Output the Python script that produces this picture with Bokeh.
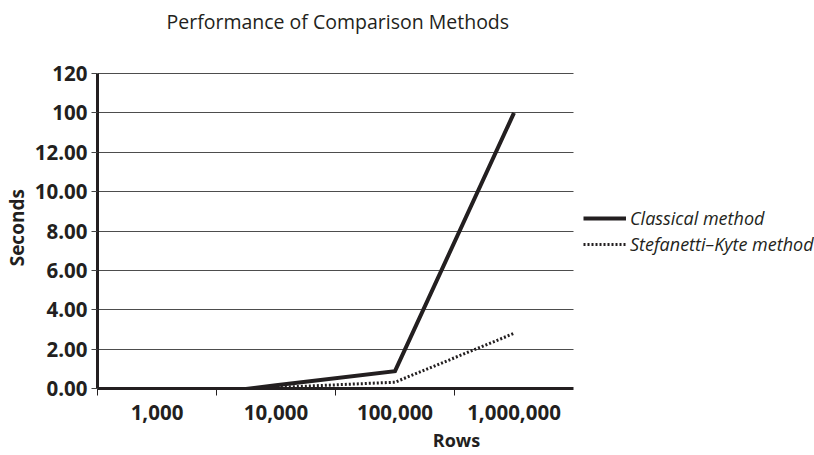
import numpy as np
from bokeh.plotting import figure
from bokeh.models import Range1d, FixedTicker, Legend, LegendItem, Label
from bokeh.embed import file_html
from bokeh.resources import INLINE

title_text = "Performance of Comparison Methods"
rows = ["1,000", "10,000", "100,000", "1,000,000"]
classical = [-0.57, 0.16, 0.88, 100.0]
stefanetti = [-0.22, 0.05, 0.32, 2.8]
y_tick_values = [0, 2, 4, 6, 8, 10, 12, 100, 120]
y_tick_labels = ["0.00", "2.00", "4.00", "6.00", "8.00", "10.00", "12.00", "100", "120"]
x_label = "Rows"
y_label = "Seconds"
series_names = ["Classical method", "Stefanetti\u2013Kyte method"]

INK = "#231f20"
FONT = "Open Sans"

CAT_PX = 119          # pixel width of one category slot
PLOT_PX = 718         # frame width (includes the legend area on the right)
AXIS_PX = 315         # pixel height of the value axis
FRAME_H = 388         # frame height (includes the title area above the axis)


def to_axis(vals):
    """Map seconds onto the broken (piecewise) y axis: one unit per tick step."""
    v = np.asarray(vals, dtype=float)
    idx = np.arange(len(y_tick_values), dtype=float)
    step0 = y_tick_values[1] - y_tick_values[0]
    return np.where(v < 0, v / step0, np.interp(v, y_tick_values, idx))


n_cat = len(rows)
n_ysteps = len(y_tick_values) - 1
x_pos = np.arange(n_cat) + 0.5
y_pos_idx = list(range(len(y_tick_values)))

p = figure(frame_width=PLOT_PX, frame_height=FRAME_H, output_backend="svg", toolbar_location=None,
           x_range=Range1d(0, PLOT_PX / CAT_PX),
           y_range=Range1d(0, n_ysteps * FRAME_H / AXIS_PX),
           min_border_left=96, min_border_right=0, min_border_top=0, min_border_bottom=67)
p.outline_line_color = None
p.background_fill_color = "white"
p.border_fill_color = "white"

# title drawn as a text label above the value axis
p.add_layout(Label(x=69, y=FRAME_H - 21, x_units="screen", y_units="screen",
                   text=title_text, text_font=FONT, text_font_size="19.5px",
                   text_font_style="normal", text_color=INK,
                   text_align="left", text_baseline="alphabetic"))

# x axis
xa = p.xaxis[0]
xa.bounds = (0, n_cat)
xa.ticker = FixedTicker(ticks=list(x_pos), minor_ticks=list(range(n_cat)))
xa.major_label_overrides = {float(x): lab for x, lab in zip(x_pos, rows)}
xa.major_tick_line_color = None
xa.major_tick_out = 0
xa.major_tick_in = 0
xa.minor_tick_line_color = INK
xa.minor_tick_line_width = 1
xa.minor_tick_out = 7
xa.minor_tick_in = 0
xa.axis_line_width = 3
xa.axis_line_color = INK
xa.major_label_text_font = FONT
xa.major_label_text_font_style = "bold"
xa.major_label_text_font_size = "20.5px"
xa.major_label_text_color = INK
xa.major_label_standoff = 9
xa.axis_label = x_label
xa.axis_label_text_font = FONT
xa.axis_label_text_font_style = "bold"
xa.axis_label_text_font_size = "18px"
xa.axis_label_text_color = INK
xa.axis_label_standoff = 5

# y axis (label padded with en spaces so it centres on the value axis, not the taller frame)
ya = p.yaxis[0]
ya.bounds = (0, n_ysteps)
ya.ticker = FixedTicker(ticks=y_pos_idx, minor_ticks=[])
ya.major_label_overrides = {i: lab for i, lab in zip(y_pos_idx, y_tick_labels)}
ya.major_tick_line_color = "#444444"
ya.major_tick_line_width = 1
ya.major_tick_out = 6
ya.major_tick_in = 0
ya.axis_line_width = 3
ya.axis_line_color = INK
ya.major_label_text_font = FONT
ya.major_label_text_font_style = "bold"
ya.major_label_text_font_size = "20.5px"
ya.major_label_text_color = INK
ya.major_label_standoff = 4
ya.axis_label = y_label + "\u2002" * 7
ya.axis_label_text_font = FONT
ya.axis_label_text_font_style = "bold"
ya.axis_label_text_font_size = "19px"
ya.axis_label_text_color = INK
ya.axis_label_standoff = 2

p.xgrid.visible = False
try:
    p.ygrid.cross_bounds = (0, n_cat)
    p.ygrid.grid_line_color = "#4d4d4d"
    p.ygrid.grid_line_width = 1
except Exception:
    p.ygrid.visible = False
    p.segment(x0=0, x1=n_cat, y0=y_pos_idx, y1=y_pos_idx,
              line_color="#4d4d4d", line_width=1)

r1 = p.line(x_pos, to_axis(classical), line_color=INK, line_width=4, line_join="miter")
r2 = p.line(x_pos, to_axis(stefanetti), line_color=INK, line_width=3, line_dash="2 2")

legend = Legend(items=[LegendItem(label=series_names[0], renderers=[r1]),
                       LegendItem(label=series_names[1], renderers=[r2])],
                location=(486, 132), orientation="vertical",
                glyph_width=43, glyph_height=20, label_height=20, label_standoff=4,
                spacing=2, padding=0, margin=0,
                border_line_color=None, background_fill_alpha=0,
                label_text_font=FONT, label_text_font_style="italic",
                label_text_font_size="18px", label_text_color=INK)
p.add_layout(legend, "center")

open("out.html", "w").write(file_html(p, INLINE))
